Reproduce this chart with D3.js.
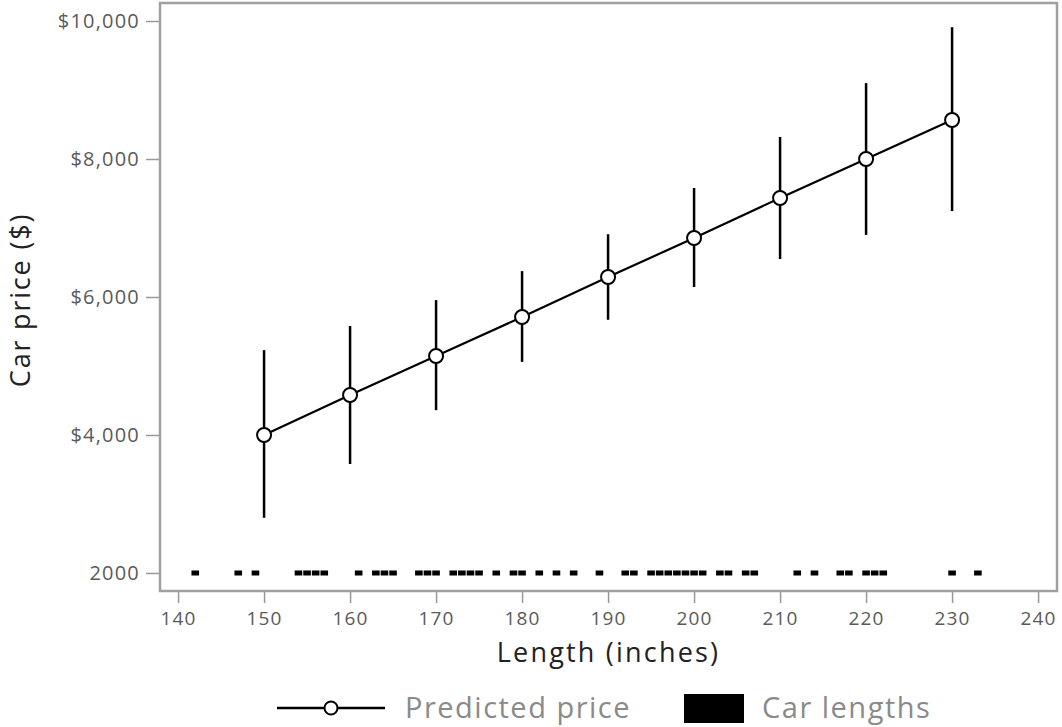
<!DOCTYPE html>
<html>
<head>
<meta charset="utf-8">
<script src="https://cdn.jsdelivr.net/npm/d3@7"></script>
<style>
  body { margin: 0; background: #fff; }
  svg { font-family: "Open Sans", sans-serif; }
  .tick text { fill: #5a5a5a; font-size: 20px; font-family: "Open Sans", sans-serif; letter-spacing: 1.2px; }
  .tick line { stroke: #999; stroke-width: 1.5px; }
</style>
</head>
<body>
<div class="graph"></div>
<script>
// predicted price by car length, with interval bounds
let lengths = [150, 160, 170, 180, 190, 200, 210, 220, 230];
let predicted = [4000, 4580, 5145, 5710, 6290, 6855, 7435, 8000, 8565];
let lower = [2800, 3580, 4360, 5060, 5670, 6145, 6550, 6900, 7245];
let upper = [5230, 5580, 5955, 6375, 6910, 7580, 8320, 9100, 9910];

// observed car lengths (rug)
let carLengths = [142, 147, 149, 154, 155, 156, 157, 161, 163, 164, 165, 168, 169, 170,
  172, 173, 174, 175, 177, 179, 180, 182, 184, 186, 189, 192, 193, 195, 196, 197, 198,
  199, 200, 201, 203, 204, 206, 207, 212, 214, 217, 218, 220, 221, 222, 230, 233];
let rugLevel = 2000;

let xTicks = [140, 150, 160, 170, 180, 190, 200, 210, 220, 230, 240];
let yTicks = [2000, 4000, 6000, 8000, 10000];
let yTickLabels = ["2000", "$4,000", "$6,000", "$8,000", "$10,000"];

let width = 1062, height = 727;
let plot = {left: 160, right: 1057, top: 3, bottom: 591};

let svg = d3.select(".graph").append("svg")
    .attr("width", width)
    .attr("height", height);

let x = d3.scaleLinear()
    .domain([137.9, 242.2])
    .range([plot.left, plot.right]);
let y = d3.scaleLinear()
    .domain([1739, 10261])
    .range([plot.bottom, plot.top]);

// X axis
let xAxis = svg.append("g")
    .attr("transform", "translate(0," + plot.bottom + ")")
    .call(d3.axisBottom(x).tickValues(xTicks).tickSize(12).tickPadding(9));
xAxis.select(".domain").remove();
xAxis.selectAll(".tick text").style("font-size", "19px");

// Y axis
let yAxis = svg.append("g")
    .attr("transform", "translate(" + plot.left + ",0)")
    .call(d3.axisLeft(y).tickValues(yTicks).tickSize(14).tickPadding(6)
        .tickFormat((d, i) => yTickLabels[i]));
yAxis.select(".domain").remove();

// frame
svg.append("rect")
    .attr("x", plot.left)
    .attr("y", plot.top)
    .attr("width", plot.right - plot.left)
    .attr("height", plot.bottom - plot.top)
    .attr("fill", "none")
    .attr("stroke", "#a0a0a0")
    .style("stroke-width", "2.5px");

// rug
let rugW = x(141) - x(140) - 1;
svg.selectAll(".rug")
    .data(carLengths)
    .enter().append("rect")
    .attr("class", "rug")
    .attr("x", d => x(d) - rugW / 2)
    .attr("y", y(rugLevel) - 2.5)
    .attr("width", rugW)
    .attr("height", 5)
    .attr("fill", "black");

// error bars
svg.selectAll(".err")
    .data(lengths)
    .enter().append("line")
    .attr("class", "err")
    .attr("x1", d => x(d))
    .attr("x2", d => x(d))
    .attr("y1", (d, i) => y(lower[i]))
    .attr("y2", (d, i) => y(upper[i]))
    .attr("stroke", "black")
    .style("stroke-width", "2.5px");

// line
let line = d3.line()
    .x(d => x(d))
    .y((d, i) => y(predicted[i]));
svg.append("path")
    .datum(lengths)
    .attr("d", line)
    .attr("fill", "none")
    .attr("stroke", "black")
    .style("stroke-width", "2.2px");

svg.selectAll(".marker")
    .data(lengths)
    .enter().append("circle")
    .attr("class", "marker")
    .attr("cx", d => x(d))
    .attr("cy", (d, i) => y(predicted[i]))
    .attr("r", 7)
    .attr("fill", "white")
    .attr("stroke", "black")
    .style("stroke-width", "2px");

// axis titles
svg.append("text")
    .attr("x", (plot.left + plot.right) / 2)
    .attr("y", 662)
    .attr("text-anchor", "middle")
    .attr("fill", "#222")
    .style("font-size", "27px")
    .style("letter-spacing", "2.2px")
    .text("Length (inches)");

svg.append("text")
    .attr("transform", "translate(30," + 300 + ") rotate(-90)")
    .attr("text-anchor", "middle")
    .attr("fill", "#222")
    .style("font-size", "27px")
    .style("letter-spacing", "1.8px")
    .text("Car price ($)");

// legend
let lg = svg.append("g");
lg.append("line")
    .attr("x1", 277).attr("x2", 385)
    .attr("y1", 708).attr("y2", 708)
    .attr("stroke", "black")
    .style("stroke-width", "2.5px");
lg.append("circle")
    .attr("cx", 331).attr("cy", 708).attr("r", 6.5)
    .attr("fill", "white").attr("stroke", "black")
    .style("stroke-width", "2px");
lg.append("text")
    .attr("x", 405).attr("y", 718)
    .attr("fill", "#8a8a8a")
    .style("font-size", "29px")
    .style("letter-spacing", "1.5px")
    .text("Predicted price");
lg.append("rect")
    .attr("x", 684).attr("y", 694)
    .attr("width", 60).attr("height", 29)
    .attr("fill", "black");
lg.append("text")
    .attr("x", 762).attr("y", 718)
    .attr("fill", "#8a8a8a")
    .style("font-size", "29px")
    .style("letter-spacing", "1.5px")
    .text("Car lengths");
</script>
</body>
</html>
